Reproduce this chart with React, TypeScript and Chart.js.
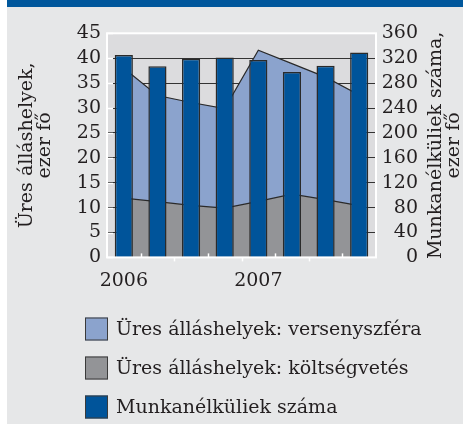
import { useEffect, useRef } from "react";
import { Chart, registerables } from "chart.js";

Chart.register(...registerables);

// ---- data ----
const categories = ["2006", "", "", "", "2007", "", "", ""];
const koltsegvetes = [11.9, 11.2, 10.45, 9.9, 11.25, 12.7, 11.6, 10.4];
const versenyszfera = [26.1, 21.3, 20.65, 20.0, 30.35, 26.2, 24.6, 22.2];
const munkanelkuliek = [325, 307, 319, 321, 317, 298, 308, 329];

const leftMax = 45;
const leftStep = 5;
const rightMax = 360;
const rightStep = 40;

const seriesLabels = [
  "Üres álláshelyek: költségvetés",
  "Üres álláshelyek: versenyszféra",
  "Munkanélküliek száma",
];
const leftTitle = ["Üres álláshelyek,", "ezer fő"];
const rightTitle = ["Munkanélküliek száma,", "ezer fő"];

// ---- style ----
const FONT = "'DejaVu Serif', serif";
const FS = 19;
const TEXT = "#231f20";
const OUTER_BG = "#e6e7e8";
const PLOT_BG = "#dcdcde";
const LIGHT_BLUE = "#8ba3cd";
const GREY = "#939497";
const DARK_BLUE = "#00549a";
const BAND = "#00579c";
const EDGE = "#2a2a2a";

const decor = {
  id: "decor",
  beforeDraw(chart: any) {
    const { ctx, chartArea: a } = chart;
    ctx.save();
    ctx.fillStyle = PLOT_BG;
    ctx.fillRect(a.left, a.top, a.right - a.left, a.bottom - a.top);
    ctx.restore();
  },
  afterDatasetsDraw(chart: any) {
    const { ctx, chartArea: a } = chart;
    const x = chart.scales.x;
    const y = chart.scales.y;
    ctx.save();
    ctx.strokeStyle = "#ffffff";
    ctx.lineWidth = 2;
    ctx.strokeRect(a.left, a.top, a.right - a.left, a.bottom - a.top);
    ctx.lineWidth = 1.5;
    y.ticks.forEach((t: any) => {
      const py = Math.round(y.getPixelForValue(t.value)) + 0.5;
      ctx.beginPath();
      ctx.moveTo(a.left, py);
      ctx.lineTo(a.left + 6, py);
      ctx.stroke();
    });
    for (let i = 1; i < categories.length; i++) {
      const px = Math.round((x.getPixelForValue(i - 1) + x.getPixelForValue(i)) / 2) + 0.5;
      ctx.beginPath();
      ctx.moveTo(px, a.bottom);
      ctx.lineTo(px, i % 2 === 1 ? a.bottom - 4 : a.bottom + 4);
      ctx.stroke();
    }
    ctx.restore();
  },
  afterDraw(chart: any) {
    const { ctx, chartArea: a } = chart;
    const cy = (a.top + a.bottom) / 2;
    ctx.save();
    ctx.fillStyle = TEXT;
    ctx.font = `${FS}px ${FONT}`;
    ctx.textAlign = "center";
    ctx.textBaseline = "middle";
    const drawTitle = (lines: string[], cx: number) => {
      const lh = 18.5;
      ctx.save();
      ctx.translate(cx, cy);
      ctx.rotate(-Math.PI / 2);
      lines.forEach((l, i) => {
        ctx.fillText(l, 0, (i - (lines.length - 1) / 2) * lh);
      });
      ctx.restore();
    };
    drawTitle(leftTitle, 29);
    drawTitle(rightTitle, 438);

    const order = [1, 0, 2];
    ctx.textAlign = "left";
    order.forEach((k, i) => {
      const ds = chart.data.datasets[k];
      const ly = 322 + i * 39;
      ctx.fillStyle = ds.backgroundColor;
      ctx.fillRect(78, ly - 11.5, 23, 23);
      ctx.strokeStyle = "#3a3a3a";
      ctx.lineWidth = 1;
      ctx.strokeRect(78.5, ly - 11, 22, 22);
      ctx.fillStyle = TEXT;
      ctx.fillText(ds.label, 109, ly + 1);
    });
    ctx.restore();
  },
};

export default function App() {
  const ref = useRef<HTMLCanvasElement | null>(null);

  useEffect(() => {
    if (!ref.current) return;
    const chart = new Chart(ref.current, {
      type: "bar",
      data: {
        labels: categories,
        datasets: [
          {
            type: "line",
            label: seriesLabels[0],
            data: koltsegvetes,
            yAxisID: "y",
            backgroundColor: GREY,
            borderColor: EDGE,
            borderWidth: 1.2,
            pointRadius: 0,
            tension: 0,
            fill: "origin",
            order: 1,
          } as any,
          {
            type: "line",
            label: seriesLabels[1],
            data: versenyszfera,
            yAxisID: "y",
            backgroundColor: LIGHT_BLUE,
            borderColor: EDGE,
            borderWidth: 1.2,
            pointRadius: 0,
            tension: 0,
            fill: "-1",
            order: 2,
          } as any,
          {
            type: "bar",
            label: seriesLabels[2],
            data: munkanelkuliek,
            yAxisID: "y1",
            backgroundColor: DARK_BLUE,
            borderColor: EDGE,
            borderWidth: 1.5,
            categoryPercentage: 1,
            barPercentage: 0.54,
            order: 0,
          } as any,
        ],
      },
      options: {
        animation: false,
        responsive: false,
        maintainAspectRatio: false,
        layout: { padding: { left: 0, right: 45, top: 26.3, bottom: 0 } },
        plugins: {
          legend: { display: false },
          tooltip: { enabled: false },
        },
        scales: {
          x: {
            offset: true,
            grid: { display: false, drawTicks: false },
            border: { display: false },
            ticks: {
              autoSkip: false,
              maxRotation: 0,
              padding: 12,
              color: TEXT,
              font: { family: FONT, size: FS },
            },
            afterFit: (s: any) => {
              s.height = 166.6;
            },
          },
          y: {
            position: "left",
            stacked: true,
            min: 0,
            max: leftMax,
            grid: { color: "#333333", lineWidth: 1, drawTicks: false },
            border: { display: false },
            ticks: {
              stepSize: leftStep,
              autoSkip: false,
              padding: 6,
              color: TEXT,
              font: { family: FONT, size: FS },
            },
            afterFit: (s: any) => {
              s.width = 100;
            },
          },
          y1: {
            position: "right",
            min: 0,
            max: rightMax,
            grid: { display: false, drawTicks: false },
            border: { display: false },
            ticks: {
              stepSize: rightStep,
              autoSkip: false,
              padding: 5,
              crossAlign: "far",
              color: TEXT,
              font: { family: FONT, size: FS },
            },
            afterFit: (s: any) => {
              s.width = 42;
            },
          },
        },
      },
      plugins: [decor],
    });
    return () => chart.destroy();
  }, []);

  return (
    <div
      style={{
        position: "absolute",
        left: 7,
        top: 0,
        width: 456,
        height: 424,
        boxSizing: "border-box",
        borderTop: `7px solid ${BAND}`,
        background: OUTER_BG,
      }}
    >
      <canvas ref={ref} width={456} height={417} style={{ display: "block", width: 456, height: 417 }} />
    </div>
  );
}
